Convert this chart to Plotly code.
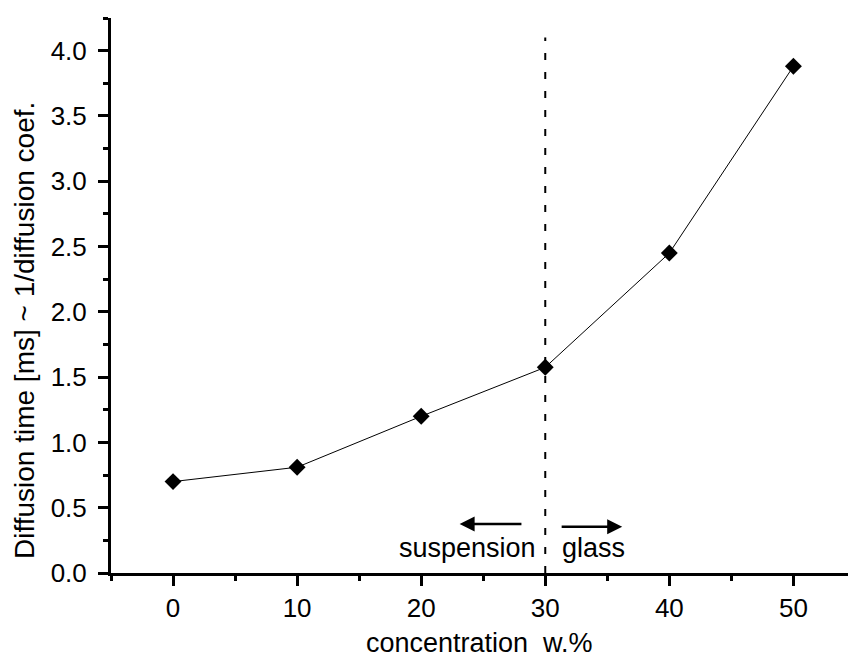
import plotly.graph_objects as go

# Measured diffusion times versus particle concentration
concentration = [0, 10, 20, 30, 40, 50]
diffusion_time = [0.70, 0.81, 1.20, 1.575, 2.45, 3.88]

x_ticks = [0, 10, 20, 30, 40, 50]
y_ticks = [0.0, 0.5, 1.0, 1.5, 2.0, 2.5, 3.0, 3.5, 4.0]
y_tick_labels = ["0.0", "0.5", "1.0", "1.5", "2.0", "2.5", "3.0", "3.5", "4.0"]

transition = 30          # suspension / glass boundary, w.%
transition_top = 4.1

FONT = "Liberation Sans, Arial, sans-serif"
AXIS_W = 3
TICK_W = 3

fig = go.Figure()

fig.add_trace(go.Scatter(
    x=concentration,
    y=diffusion_time,
    mode="lines+markers",
    line=dict(color="black", width=1),
    marker=dict(symbol="diamond", size=13, color="black"),
    showlegend=False,
    cliponaxis=False,
))

# dashed boundary line
fig.add_shape(
    type="line", xref="x", yref="y",
    x0=transition, x1=transition, y0=0, y1=transition_top,
    line=dict(color="black", width=2, dash="7px,12px"),
)

# direction arrows
fig.add_annotation(
    x=23.1, y=0.375, ax=28.2, ay=0.375, xref="x", yref="y", axref="x", ayref="y",
    text="", showarrow=True, arrowhead=2, arrowsize=1.2, arrowwidth=2.5, arrowcolor="black",
)
fig.add_annotation(
    x=36.2, y=0.355, ax=31.2, ay=0.355, xref="x", yref="y", axref="x", ayref="y",
    text="", showarrow=True, arrowhead=2, arrowsize=1.2, arrowwidth=2.5, arrowcolor="black",
)

# region labels
fig.add_annotation(
    x=23.7, y=0.19, xref="x", yref="y", text="suspension", showarrow=False,
    font=dict(family=FONT, size=27, color="black"), xanchor="center", yanchor="middle",
)
fig.add_annotation(
    x=33.85, y=0.19, xref="x", yref="y", text="glass", showarrow=False,
    font=dict(family=FONT, size=27, color="black"), xanchor="center", yanchor="middle",
)

# axis titles
fig.add_annotation(
    x=0.5, y=0, xref="paper", yref="paper", yshift=-70, text="concentration  w.%",
    showarrow=False, font=dict(family=FONT, size=27, color="black"),
    xanchor="center", yanchor="middle",
)
fig.add_annotation(
    x=0, y=0.436, xref="paper", yref="paper", xshift=-87,
    text="Diffusion time [ms] ~ 1/diffusion coef.", textangle=-90,
    showarrow=False, font=dict(family=FONT, size=28, color="black"),
    xanchor="center", yanchor="middle",
)

fig.update_layout(
    width=848, height=664,
    margin=dict(l=111, r=0, t=18, b=91),
    paper_bgcolor="white", plot_bgcolor="white",
    font=dict(family=FONT, color="black"),
    xaxis=dict(
        range=[-5, 54.4],
        showline=True, linecolor="black", linewidth=AXIS_W,
        ticks="outside", ticklen=10, tickwidth=TICK_W, tickcolor="black",
        tickvals=x_ticks, ticktext=[str(v) for v in x_ticks],
        minor=dict(ticks="outside", ticklen=5, tickwidth=TICK_W, tickcolor="black", dtick=5, tick0=0),
        showgrid=False, zeroline=False,
        tickfont=dict(family=FONT, size=26, color="black"),
    ),
    yaxis=dict(
        range=[0, 4.25],
        showline=True, linecolor="black", linewidth=AXIS_W,
        ticks="outside", ticklen=10, tickwidth=TICK_W, tickcolor="black",
        tickvals=y_ticks, ticktext=y_tick_labels,
        minor=dict(ticks="outside", ticklen=5, tickwidth=TICK_W, tickcolor="black", dtick=0.25, tick0=0),
        showgrid=False, zeroline=False,
        ticklabelstandoff=6,
        tickfont=dict(family=FONT, size=26, color="black"),
    ),
)

fig.write_html("out.html")
